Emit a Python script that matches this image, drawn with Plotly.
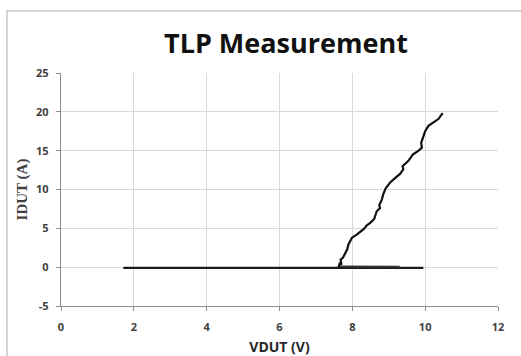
import plotly.graph_objects as go

# Data
tlp_v = [7.62, 7.66, 7.70, 7.68, 7.74, 7.80, 7.86, 7.89, 7.99, 8.12, 8.22, 8.31, 8.40, 8.49, 8.60, 8.63, 8.67,
         8.76, 8.74, 8.81, 8.85, 8.92, 9.04, 9.18, 9.31, 9.40, 9.38, 9.54, 9.66, 9.82,
         9.91, 9.89, 9.95, 10.0, 10.09, 10.23, 10.37, 10.46, 10.49]
tlp_i = [0.0, 0.6, 0.3, 1.0, 1.2, 1.85, 2.3, 2.9, 3.8, 4.2, 4.6, 4.9, 5.4, 5.7, 6.2, 6.6, 7.2,
         7.6, 8.0, 8.7, 9.4, 10.2, 10.9, 11.5, 12.0, 12.6, 13.0, 13.7, 14.5, 15.0,
         15.4, 16.0, 16.9, 17.5, 18.2, 18.6, 19.1, 19.7, 19.8]
base_v = [1.71, 9.95]
base_i = [-0.1, -0.1]
ret_v = [7.65, 9.3]
ret_i = [0.08, 0.05]

x_ticks = [0, 2, 4, 6, 8, 10, 12]
y_ticks = [-5, 0, 5, 10, 15, 20, 25]

fig = go.Figure()
fig.add_trace(go.Scatter(x=base_v, y=base_i, mode="lines",
                         line=dict(color="#1a1a1a", width=2.2), showlegend=False))
fig.add_trace(go.Scatter(x=ret_v, y=ret_i, mode="lines",
                         line=dict(color="#333333", width=2), showlegend=False))
fig.add_trace(go.Scatter(x=tlp_v, y=tlp_i, mode="lines",
                         line=dict(color="#111111", width=2.2), showlegend=False))

tickfont = dict(family="Open Sans", size=11, color="#404040", weight="bold")

fig.update_layout(
    width=521, height=356,
    margin=dict(l=61, r=23, t=73, b=50),
    paper_bgcolor="white", plot_bgcolor="white",
    xaxis=dict(range=[0, 12], tickvals=x_ticks, ticktext=[str(v) for v in x_ticks],
               showgrid=True, gridcolor="#d9d9d9", gridwidth=1.3,
               showline=True, linecolor="#8c8c8c", linewidth=1.3, mirror=False,
               ticks="outside", ticklen=4, tickcolor="#8c8c8c", automargin=False,
               tickfont=tickfont, zeroline=False, ticklabelstandoff=7,
               title=dict(text="VDUT (V)", standoff=14,
                          font=dict(family="Open Sans", size=14, color="#262626", weight="bold"))),
    yaxis=dict(range=[-5, 25], tickvals=y_ticks, ticktext=[str(v) for v in y_ticks],
               showgrid=True, gridcolor="#d9d9d9", gridwidth=1.3,
               showline=True, linecolor="#8c8c8c", linewidth=1.3, automargin=False,
               ticks="outside", ticklen=4, tickcolor="#8c8c8c",
               tickfont=tickfont, zeroline=False, ticklabelstandoff=5,
               title=dict(text="IDUT (A)", standoff=4,
                          font=dict(family="Liberation Serif", size=15, color="#404040", weight="bold"))),
    shapes=[dict(type="rect", xref="paper", yref="paper",
                 x0=-0.1236, x1=1.2, y0=-0.5, y1=1.266,
                 line=dict(color="#c6c6c6", width=1.5), layer="below")],
    annotations=[dict(text="TLP Measurement", xref="paper", yref="paper",
                      x=0.514, y=1.13, xanchor="center", yanchor="middle",
                      showarrow=False,
                      font=dict(family="Open Sans", size=27, color="#111111", weight="bold"))],
)

fig.write_html("out.html")
